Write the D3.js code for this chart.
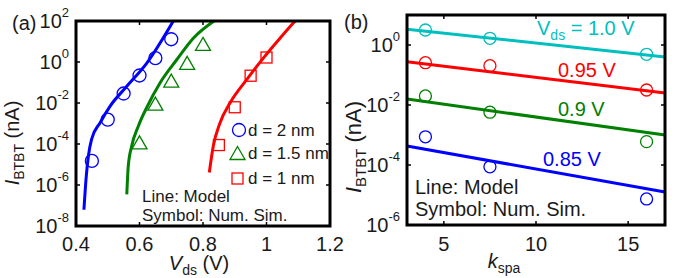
<!DOCTYPE html>
<html><head><meta charset="utf-8">
<script src="https://cdn.jsdelivr.net/npm/d3@7"></script>
<style>
body{margin:0;background:#fff}
svg{display:block}
text{font-family:"Liberation Sans",Arial,sans-serif;fill:#1a1a1a}
</style>
</head><body>
<svg id="c" width="688" height="278"></svg>
<script>
// ---------- Panel (a) data ----------
const aXTicks = [0.4, 0.6, 0.8, 1.0, 1.2];
const aXTickLabels = ["0.4", "0.6", "0.8", "1", "1.2"];
const aYTickExps = [2, 0, -2, -4, -6, -8];
const aLegend = ["d = 2 nm", "d = 1.5 nm", "d = 1 nm"];

const aLine2nmV = [0.425, 0.4315, 0.439, 0.449, 0.476, 0.507, 0.560, 0.623, 0.7065];
const aLine2nmI = [6.2e-8, 1.9e-6, 2.6e-5, 1.7e-4, 1.1e-3, 6.9e-3, 6.5e-2, 0.89, 100];
const aSim2nmV = [0.45, 0.5, 0.55, 0.6, 0.65, 0.7];
const aSim2nmI = [1.5e-5, 1.55e-3, 2.9e-2, 0.22, 1.55, 12.9];

const aLine15nmV = [0.560, 0.5647, 0.5754, 0.5962, 0.6246, 0.6646, 0.7172, 0.7695, 0.8346];
const aLine15nmI = [3.5e-7, 8.5e-6, 7.9e-5, 7.4e-4, 6.9e-3, 9.5e-2, 1.29, 14.5, 100];
const aSim15nmV = [0.6, 0.65, 0.7, 0.75, 0.8];
const aSim15nmI = [1.2e-4, 9.3e-3, 0.123, 0.91, 7.6];

const aLine1nmV = [0.8199, 0.8324, 0.8535, 0.885, 0.9376, 0.99, 1.0425, 1.0898];
const aLine1nmI = [4.1e-6, 7.9e-5, 1.07e-3, 1.0e-2, 0.138, 1.55, 14.5, 100];
const aSim1nmV = [0.85, 0.9, 0.95, 1.0];
const aSim1nmI = [8.9e-5, 6.2e-3, 0.214, 1.66];

// ---------- Panel (b) data ----------
const bXTicks = [5, 10, 15];
const bYTickExps = [0, -2, -4, -6];
const bVdsLabels = ["1.0 V", "0.95 V", "0.9 V", "0.85 V"];
const bLineK = [3, 17];
const bLine100 = [3.34, 0.40];
const bLine095 = [0.277, 0.0251];
const bLine090 = [0.0158, 1.0e-3];
const bLine085 = [4.3e-4, 1.26e-5];
const bSimK = [4, 7.5, 16];
const bSim100 = [3.16, 1.67, 0.49];
const bSim095 = [0.257, 0.204, 0.0316];
const bSim090 = [0.02, 5.75e-3, 6.0e-4];
const bSim085 = [8.7e-4, 8.7e-5, 7.4e-6];

// ---------- drawing ----------
const svg = d3.select("#c");
const BLUE = "#0000ff", GREEN = "#008000", RED = "#ff0000", CYAN = "#00bfbf";
const zip = (xs, ys) => xs.map((x, i) => [x, ys[i]]);

function supLabel(g, x, y, exp, size, anchor) {
  const t = g.append("text").attr("x", x).attr("y", y)
    .attr("text-anchor", anchor || "end").style("font-size", size + "px");
  t.append("tspan").text("10");
  t.append("tspan").attr("dy", -0.55 * size).style("font-size", (size * 0.65) + "px").text(exp);
  return t;
}

function frame(g, x0, y0, x1, y1) {
  g.append("rect").attr("x", x0).attr("y", y0).attr("width", x1 - x0).attr("height", y1 - y0)
    .attr("fill", "none").attr("stroke", "#000").attr("stroke-width", 3);
}

// ===== Panel (a) =====
{
  const L = 76, R = 330, T = 21, B = 226;
  const x = d3.scaleLinear().domain([0.4, 1.2]).range([L, R]);
  const y = d3.scaleLog().domain([1e-8, 1e2]).range([B, T]);
  const g = svg.append("g");
  const defs = svg.append("defs");
  defs.append("clipPath").attr("id", "clipA").append("rect")
    .attr("x", L).attr("y", T).attr("width", R - L).attr("height", B - T);

  // ticks (inside)
  aXTicks.forEach(v => {
    g.append("line").attr("x1", x(v)).attr("x2", x(v)).attr("y1", B).attr("y2", B - 4).attr("stroke", "#000").attr("stroke-width", 1.5);
    g.append("line").attr("x1", x(v)).attr("x2", x(v)).attr("y1", T).attr("y2", T + 4).attr("stroke", "#000").attr("stroke-width", 1.5);
  });
  aYTickExps.forEach(e => {
    const yy = y(Math.pow(10, e));
    g.append("line").attr("x1", L).attr("x2", L + 4).attr("y1", yy).attr("y2", yy).attr("stroke", "#000").attr("stroke-width", 1.5);
    g.append("line").attr("x1", R).attr("x2", R - 4).attr("y1", yy).attr("y2", yy).attr("stroke", "#000").attr("stroke-width", 1.5);
    supLabel(g, L - 7, yy + 7, e, 20);
  });
  aXTicks.forEach((v, i) => {
    g.append("text").attr("x", x(v)).attr("y", 251).attr("text-anchor", "middle")
      .style("font-size", "20px").text(aXTickLabels[i]);
  });

  const line = d3.line().x(d => x(d[0])).y(d => y(d[1])).curve(d3.curveMonotoneX);
  const plot = g.append("g").attr("clip-path", "url(#clipA)");
  [[aLine2nmV, aLine2nmI, BLUE], [aLine15nmV, aLine15nmI, GREEN], [aLine1nmV, aLine1nmI, RED]].forEach(s => {
    plot.append("path").datum(zip(s[0], s[1])).attr("d", line)
      .attr("fill", "none").attr("stroke", s[2]).attr("stroke-width", 3);
  });
  // symbols
  zip(aSim2nmV, aSim2nmI).forEach(d => {
    g.append("circle").attr("cx", x(d[0])).attr("cy", y(d[1])).attr("r", 6.5)
      .attr("fill", "none").attr("stroke", BLUE).attr("stroke-width", 1.3);
  });
  const tri = (cx, cy) => `M${cx},${cy - 6.5}L${cx + 7.5},${cy + 6.5}L${cx - 7.5},${cy + 6.5}Z`;
  zip(aSim15nmV, aSim15nmI).forEach(d => {
    g.append("path").attr("d", tri(x(d[0]), y(d[1])))
      .attr("fill", "none").attr("stroke", GREEN).attr("stroke-width", 1.3);
  });
  zip(aSim1nmV, aSim1nmI).forEach(d => {
    g.append("rect").attr("x", x(d[0]) - 5.5).attr("y", y(d[1]) - 5.5).attr("width", 11).attr("height", 11)
      .attr("fill", "none").attr("stroke", RED).attr("stroke-width", 1.3);
  });

  // legend
  g.append("circle").attr("cx", 239).attr("cy", 130).attr("r", 6.5).attr("fill", "none").attr("stroke", BLUE).attr("stroke-width", 1.3);
  g.append("path").attr("d", tri(237.5, 153)).attr("fill", "none").attr("stroke", GREEN).attr("stroke-width", 1.3);
  g.append("rect").attr("x", 232).attr("y", 173).attr("width", 11).attr("height", 11).attr("fill", "none").attr("stroke", RED).attr("stroke-width", 1.3);
  [136, 159, 184].forEach((yy, i) => {
    g.append("text").attr("x", 248).attr("y", yy).style("font-size", "17px").text(aLegend[i]);
  });
  g.append("text").attr("x", 142).attr("y", 202).style("font-size", "17px").text("Line: Model");
  g.append("text").attr("x", 142).attr("y", 221).style("font-size", "17px").text("Symbol: Num. Sim.");

  frame(g, L, T, R, B);

  // panel tag
  g.append("text").attr("x", 12).attr("y", 30).style("font-size", "20px").text("(a)");

  // axis labels
  const yl = g.append("text").attr("transform", "translate(19,143) rotate(-90)")
    .attr("text-anchor", "middle").style("font-size", "20px");
  yl.append("tspan").style("font-style", "italic").text("I");
  yl.append("tspan").attr("dy", 5).style("font-size", "14px").text("BTBT");
  yl.append("tspan").attr("dy", -5).text(" (nA)");

  const xl = g.append("text").attr("x", 199).attr("y", 270).attr("text-anchor", "middle").style("font-size", "20px");
  xl.append("tspan").style("font-style", "italic").text("V");
  xl.append("tspan").attr("dy", 5).style("font-size", "14px").text("ds");
  xl.append("tspan").attr("dy", -5).text(" (V)");
}

// ===== Panel (b) =====
{
  const L = 407, R = 665, T = 15, B = 225;
  const x = d3.scaleLinear().domain([3, 17]).range([L, R]);
  const y = d3.scaleLog().domain([1e-6, 1e1]).range([B, T]);
  const g = svg.append("g");

  bXTicks.forEach(v => {
    g.append("line").attr("x1", x(v)).attr("x2", x(v)).attr("y1", B).attr("y2", B - 4).attr("stroke", "#000").attr("stroke-width", 1.5);
    g.append("line").attr("x1", x(v)).attr("x2", x(v)).attr("y1", T).attr("y2", T + 4).attr("stroke", "#000").attr("stroke-width", 1.5);
    g.append("text").attr("x", x(v)).attr("y", 251).attr("text-anchor", "middle").style("font-size", "20px").text(v);
  });
  bYTickExps.forEach(e => {
    const yy = y(Math.pow(10, e));
    g.append("line").attr("x1", L).attr("x2", L + 4).attr("y1", yy).attr("y2", yy).attr("stroke", "#000").attr("stroke-width", 1.5);
    g.append("line").attr("x1", R).attr("x2", R - 4).attr("y1", yy).attr("y2", yy).attr("stroke", "#000").attr("stroke-width", 1.5);
    supLabel(g, L - 7, yy + 7, e, 20);
  });

  const line = d3.line().x(d => x(d[0])).y(d => y(d[1]));
  const series = [[bLine100, bSim100, CYAN], [bLine095, bSim095, RED], [bLine090, bSim090, GREEN], [bLine085, bSim085, BLUE]];
  series.forEach(s => {
    g.append("path").datum(zip(bLineK, s[0])).attr("d", line)
      .attr("fill", "none").attr("stroke", s[2]).attr("stroke-width", 3);
    zip(bSimK, s[1]).forEach(d => {
      g.append("circle").attr("cx", x(d[0])).attr("cy", y(d[1])).attr("r", 6)
        .attr("fill", "none").attr("stroke", s[2]).attr("stroke-width", 1.3);
    });
  });

  // annotations
  const v1 = g.append("text").attr("x", 537).attr("y", 35).style("font-size", "20px").style("fill", CYAN);
  v1.append("tspan").text("V");
  v1.append("tspan").attr("dy", 5).style("font-size", "14px").text("ds");
  v1.append("tspan").attr("dy", -5).text(" = " + bVdsLabels[0]);
  g.append("text").attr("x", 558).attr("y", 77).style("font-size", "20px").style("fill", RED).text(bVdsLabels[1]);
  g.append("text").attr("x", 558).attr("y", 116).style("font-size", "20px").style("fill", GREEN).text(bVdsLabels[2]);
  g.append("text").attr("x", 543).attr("y", 166).style("font-size", "20px").style("fill", BLUE).text(bVdsLabels[3]);
  g.append("text").attr("x", 415).attr("y", 194).style("font-size", "20px").text("Line: Model");
  g.append("text").attr("x", 415).attr("y", 216).style("font-size", "20px").text("Symbol: Num. Sim.");

  frame(g, L, T, R, B);

  g.append("text").attr("x", 344).attr("y", 29).style("font-size", "20px").text("(b)");

  const yl = g.append("text").attr("transform", "translate(361,147) rotate(-90)")
    .attr("text-anchor", "middle").style("font-size", "22px");
  yl.append("tspan").style("font-style", "italic").text("I");
  yl.append("tspan").attr("dy", 5).style("font-size", "15px").text("BTBT");
  yl.append("tspan").attr("dy", -5).text(" (nA)");

  const xl = g.append("text").attr("x", 504).attr("y", 268).attr("text-anchor", "middle").style("font-size", "20px");
  xl.append("tspan").style("font-style", "italic").text("k");
  xl.append("tspan").attr("dy", 5).style("font-size", "14px").text("spa");
}
</script>
</body></html>
